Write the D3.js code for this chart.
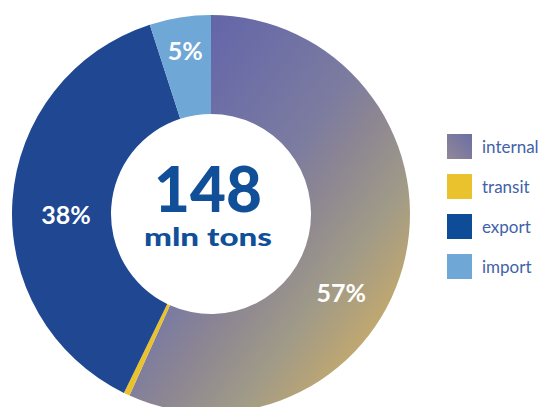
<!DOCTYPE html>
<html>
<head>
<meta charset="utf-8">
<script src="https://cdn.jsdelivr.net/npm/d3@7"></script>
<style>
  html, body { margin: 0; padding: 0; background: #ffffff; overflow: hidden; }
  svg { display: block; }
</style>
</head>
<body>
<svg id="chart" width="547" height="407"></svg>
<script>
// data
const categories = ["internal", "transit", "export", "import"];
const shares = [57, 0.5, 38, 5];
const labels = ["57%", "", "38%", "5%"];
const totalValue = "148";
const totalUnit = "mln tons";

const colors = ["url(#internal-grad)", "#e9c22e", "#1f4792", "#6fa7d6"];
const legendColors = ["url(#legend-grad)", "#e9c22e", "#0e4c97", "#6fa7d6"];

// manual label placement (the original nudges them off the centroid)
const labelRadius = [152, 0, 145, 166];
const labelAngleShift = [19, 0, -4, 0];

const width = 547;
const height = 407;
const cx = 211;
const cy = 214;
const outerR = 199;
const innerR = 100;

const svg = d3.select("#chart");

const defs = svg.append("defs");
// gradient coords are in the donut group's space (origin = centre)
const grad = defs.append("linearGradient")
    .attr("id","internal-grad")
    .attr("gradientUnits","userSpaceOnUse")
    .attr("x1",-11).attr("y1",-194)
    .attr("x2",269).attr("y2",16);
[
    ["0%","#6264aa"],
    ["44%","#7c7ca0"],
    ["55%","#8a8494"],
    ["75%","#a09a88"],
    ["93%","#c0a870"],
    ["100%","#c8aa68"]
].forEach(s => grad.append("stop").attr("offset",s[0]).attr("stop-color",s[1]));

const lgrad = defs.append("linearGradient")
    .attr("id","legend-grad")
    .attr("x1","0").attr("y1","1").attr("x2","1").attr("y2","0");
lgrad.append("stop").attr("offset","0%").attr("stop-color","#928798");
lgrad.append("stop").attr("offset","100%").attr("stop-color","#6a6fa3");

const pie = d3.pie().sort(null).value(d => d);
const arcs = pie(shares);

const arc = d3.arc().innerRadius(innerR).outerRadius(outerR);

const g = svg.append("g").attr("transform",`translate(${cx},${cy})`);

g.selectAll("path.slice")
    .data(arcs)
    .enter()
    .append("path")
    .attr("class","slice")
    .attr("d",arc)
    .attr("fill",(d,i) => colors[i]);

g.selectAll("text.pct")
    .data(arcs)
    .enter()
    .append("text")
    .attr("class","pct")
    .text((d,i) => labels[i])
    .attr("text-anchor","middle")
    .attr("dominant-baseline","central")
    .attr("font-family","Lato, 'Open Sans', sans-serif")
    .attr("font-weight",700)
    .attr("font-size",25)
    .attr("fill","#ffffff")
    .attr("x",(d,i) =>
    {
        const a = (d.startAngle+d.endAngle)/2 + labelAngleShift[i]*Math.PI/180;
        return Math.sin(a)*labelRadius[i];
    })
    .attr("y",(d,i) =>
    {
        const a = (d.startAngle+d.endAngle)/2 + labelAngleShift[i]*Math.PI/180;
        return -Math.cos(a)*labelRadius[i];
    });

g.append("text")
    .text(totalValue)
    .attr("text-anchor","middle")
    .attr("x",-3)
    .attr("y",-2)
    .attr("font-family","Lato, 'Open Sans', sans-serif")
    .attr("font-weight",900)
    .attr("font-size",62)
    .attr("fill","#124f99");

g.append("text")
    .text(totalUnit)
    .attr("text-anchor","middle")
    .attr("x",-3)
    .attr("y",32)
    .attr("textLength",128)
    .attr("lengthAdjust","spacingAndGlyphs")
    .attr("font-family","Lato, 'Open Sans', sans-serif")
    .attr("font-weight",900)
    .attr("font-size",25)
    .attr("fill","#124f99");

// legend
const legendX = 447;
const legendY = 134;
const legendStep = 40;
const swatch = 25;

const legend = svg.append("g")
    .selectAll("g.legend-item")
    .data(categories)
    .enter()
    .append("g")
    .attr("class","legend-item")
    .attr("transform",(d,i) => `translate(${legendX},${legendY+i*legendStep})`);

legend.append("rect")
    .attr("width",swatch)
    .attr("height",swatch)
    .attr("fill",(d,i) => legendColors[i]);

legend.append("text")
    .text(d => d)
    .attr("x",swatch+10)
    .attr("y",swatch/2)
    .attr("dominant-baseline","central")
    .attr("font-family","Lato, 'Open Sans', sans-serif")
    .attr("font-size",17)
    .attr("fill","#3f62aa");
</script>
</body>
</html>
